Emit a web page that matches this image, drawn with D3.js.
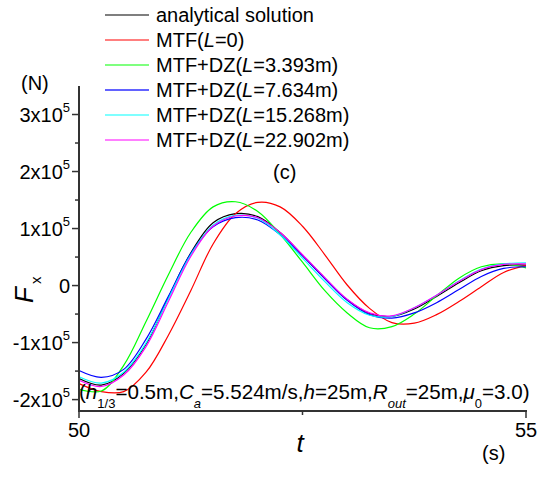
<!DOCTYPE html>
<html>
<head>
<meta charset="utf-8">
<script src="https://cdn.jsdelivr.net/npm/d3@7"></script>
<style>
  body { margin: 0; background: #fff; }
  svg { font-family: "Liberation Sans", Arial, sans-serif; }
</style>
</head>
<body>
<svg id="chart"></svg>
<script>
// time axis (s) and forces (x10^5 N)
const time = [50, 50.25, 50.5, 50.75, 51, 51.25, 51.5, 51.75, 52, 52.25, 52.5,
              52.75, 53, 53.25, 53.5, 53.75, 54, 54.25, 54.5, 54.75, 55];
const analytical = [-1.63, -1.745, -1.54, -1.03, -0.21, 0.57, 1.10, 1.26, 1.21, 0.93, 0.53,
                    0.13, -0.25, -0.49, -0.54, -0.41, -0.19, 0.05, 0.26, 0.35, 0.36];
const mtf0 = [-1.72, -1.86, -1.86, -1.52, -0.87, -0.09, 0.73, 1.26, 1.46, 1.38, 1.04,
              0.54, 0.01, -0.40, -0.65, -0.66, -0.51, -0.28, -0.02, 0.23, 0.35];
const dz3 = [-1.82, -1.85, -1.40, -0.63, 0.19, 0.93, 1.38, 1.47, 1.30, 0.90, 0.41,
             -0.09, -0.48, -0.74, -0.72, -0.50, -0.18, 0.13, 0.33, 0.38, 0.31];
const dz7 = [-1.49, -1.61, -1.47, -0.94, -0.19, 0.56, 1.03, 1.19, 1.15, 0.89, 0.52,
             0.12, -0.26, -0.51, -0.57, -0.48, -0.30, -0.07, 0.16, 0.30, 0.33];
const dz15 = [-1.60, -1.71, -1.52, -1.01, -0.23, 0.54, 1.06, 1.23, 1.18, 0.89, 0.48,
              0.07, -0.30, -0.52, -0.54, -0.39, -0.17, 0.08, 0.29, 0.38, 0.40];
const dz22 = [-1.66, -1.77, -1.57, -1.07, -0.28, 0.51, 1.04, 1.22, 1.19, 0.93, 0.54,
              0.14, -0.24, -0.48, -0.53, -0.39, -0.17, 0.07, 0.28, 0.37, 0.38];

const seriesNames = ["analytical solution", "MTF(L=0)", "MTF+DZ(L=3.393m)",
                     "MTF+DZ(L=7.634m)", "MTF+DZ(L=15.268m)", "MTF+DZ(L=22.902m)"];
const seriesColors = ["#000000", "#ff0000", "#00ff00", "#0000ff", "#00ffff", "#ff00ff"];
const seriesValues = [analytical, mtf0, dz3, dz7, dz15, dz22];
// legend labels split so L can be italic
const legendParts = [
  ["analytical solution"],
  ["MTF(", "L", "=0)"],
  ["MTF+DZ(", "L", "=3.393m)"],
  ["MTF+DZ(", "L", "=7.634m)"],
  ["MTF+DZ(", "L", "=15.268m)"],
  ["MTF+DZ(", "L", "=22.902m)"]
];

const yMajor = [-2, -1, 0, 1, 2, 3];
const yMinor = [-1.5, -0.5, 0.5, 1.5, 2.5];
const xMajor = [50, 55];
const xMinor = [52.5];

const width = 537, height = 480;
const svg = d3.select("#chart").attr("width", width).attr("height", height);

const x = d3.scaleLinear().domain([50, 55]).range([79, 526]);
const y = d3.scaleLinear().domain([-2.2, 3.5]).range([411, 86]);

const axisColor = "#333";

// curves
const line = d3.line()
  .x((d, i) => x(time[i]))
  .y(d => y(d))
  .curve(d3.curveCatmullRom.alpha(0.5));

svg.append("g")
  .selectAll("path")
  .data(seriesValues)
  .enter().append("path")
  .attr("d", d => line(d))
  .style("fill", "none")
  .style("stroke", (d, i) => seriesColors[i])
  .style("stroke-width", 1.2);

// left axis
const yAxis = svg.append("g");
yAxis.append("line")
  .attr("x1", x(50)).attr("x2", x(50))
  .attr("y1", y(3.5)).attr("y2", y(-2.2))
  .style("stroke", axisColor).style("stroke-width", 2);
yAxis.selectAll(".major")
  .data(yMajor).enter().append("line")
  .attr("x1", x(50) - 7).attr("x2", x(50))
  .attr("y1", d => y(d)).attr("y2", d => y(d))
  .style("stroke", axisColor).style("stroke-width", 1.5);
yAxis.selectAll(".minor")
  .data(yMinor).enter().append("line")
  .attr("x1", x(50) - 4).attr("x2", x(50))
  .attr("y1", d => y(d)).attr("y2", d => y(d))
  .style("stroke", axisColor).style("stroke-width", 1.5);

const yLabels = yAxis.selectAll(".ylab")
  .data(yMajor).enter().append("text")
  .attr("x", x(50) - 9)
  .attr("y", d => y(d) + 7)
  .attr("text-anchor", "end")
  .style("font-size", "20px");
yLabels.each(function(d) {
  const t = d3.select(this);
  if (d === 0) { t.text("0"); return; }
  t.append("tspan").text(d + "x10");
  t.append("tspan").attr("dy", -10).style("font-size", "13px").text("5");
});

// bottom axis
const xAxis = svg.append("g");
xAxis.append("line")
  .attr("x1", x(50) - 1).attr("x2", x(55) + 1)
  .attr("y1", y(-2.2)).attr("y2", y(-2.2))
  .style("stroke", axisColor).style("stroke-width", 2);
xAxis.selectAll(".major")
  .data(xMajor).enter().append("line")
  .attr("x1", d => x(d)).attr("x2", d => x(d))
  .attr("y1", y(-2.2)).attr("y2", y(-2.2) + 7)
  .style("stroke", axisColor).style("stroke-width", 1.5);
xAxis.selectAll(".minor")
  .data(xMinor).enter().append("line")
  .attr("x1", d => x(d)).attr("x2", d => x(d))
  .attr("y1", y(-2.2)).attr("y2", y(-2.2) + 4)
  .style("stroke", axisColor).style("stroke-width", 1.5);
xAxis.selectAll(".xlab")
  .data(xMajor).enter().append("text")
  .attr("x", d => x(d))
  .attr("y", 437)
  .attr("text-anchor", "middle")
  .style("font-size", "20px")
  .text(d => d);

// axis titles and units
const fx = svg.append("text")
  .attr("transform", "translate(33,303) rotate(-90)")
  .style("font-size", "26px");
fx.append("tspan").style("font-style", "italic").text("F");
fx.append("tspan").attr("dy", 8).attr("dx", 3).style("font-size", "15px").text("x");

svg.append("text").attr("x", 21).attr("y", 90).style("font-size", "20px").text("(N)");
svg.append("text").attr("x", 300).attr("y", 452).attr("text-anchor", "middle")
  .style("font-size", "26px").style("font-style", "italic").text("t");
svg.append("text").attr("x", 482).attr("y", 460).style("font-size", "20px").text("(s)");
svg.append("text").attr("x", 273).attr("y", 179).style("font-size", "20px").text("(c)");

// parameter note
const note = svg.append("text").attr("x", 79).attr("y", 399).style("font-size", "20.6px");
const noteParts = [
  ["(", 0, false], ["h", 0, true], ["1/3", 1, false], ["=0.5m,", -1, false],
  ["C", 0, true], ["a", 1, true], ["=5.524m/s,", -1, false],
  ["h", 0, true], ["=25m,", 0, false],
  ["R", 0, true], ["out", 1, true], ["=25m,", -1, false],
  ["\u03bc", 0, true], ["0", 1, false], ["=3.0)", -1, false]
];
noteParts.forEach(([txt, sub, ital]) => {
  const ts = note.append("tspan").text(txt);
  if (ital) ts.style("font-style", "italic");
  if (sub === 1) ts.attr("dy", 9).style("font-size", "13px");
  if (sub === -1) ts.attr("dy", -9);
});

// legend
const legend = svg.append("g");
const rowY = [15, 40, 65, 90, 115, 140];
seriesNames.forEach((name, i) => {
  legend.append("line")
    .attr("x1", 105).attr("x2", 149)
    .attr("y1", rowY[i]).attr("y2", rowY[i])
    .style("stroke", i === 3 ? "#6262ff" : seriesColors[i])
    .style("stroke-width", i === 3 ? 2 : 1.2);
  const t = legend.append("text")
    .attr("x", 156).attr("y", rowY[i] + 7)
    .style("font-size", "20px");
  legendParts[i].forEach((p, j) => {
    const ts = t.append("tspan").text(p);
    if (j === 1) ts.style("font-style", "italic");
  });
});
</script>
</body>
</html>
